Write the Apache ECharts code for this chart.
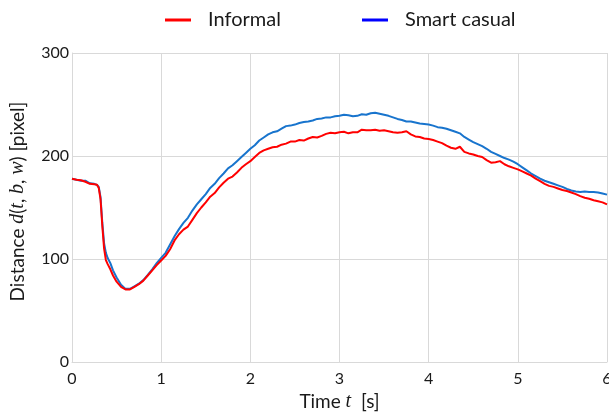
<!DOCTYPE html>
<html>
<head>
<meta charset="utf-8">
<script src="https://cdn.jsdelivr.net/npm/echarts@6/dist/echarts.min.js"></script>
<style>
  html, body { margin: 0; padding: 0; background: #fff; }
  #chart { width: 609px; height: 414px; }
</style>
</head>
<body>
<div id="chart"></div>
<script>
// Time samples in seconds (denser around the sharp drop)
const time = [
  0, 0.05, 0.1, 0.15, 0.2, 0.25, 0.28, 0.3, 0.32, 0.34, 0.36, 0.38, 0.4, 0.43, 0.46,
  0.5, 0.55, 0.6, 0.65, 0.7, 0.75, 0.8, 0.85, 0.9, 0.95,
  1.0, 1.05, 1.1, 1.15, 1.2, 1.25, 1.3, 1.35, 1.4, 1.45, 1.5, 1.55, 1.6, 1.65, 1.7, 1.75, 1.8, 1.85, 1.9, 1.95,
  2.0, 2.05, 2.1, 2.15, 2.2, 2.25, 2.3, 2.35, 2.4, 2.45, 2.5, 2.55, 2.6, 2.65, 2.7, 2.75, 2.8, 2.85, 2.9, 2.95,
  3.0, 3.05, 3.1, 3.15, 3.2, 3.25, 3.3, 3.35, 3.4, 3.45, 3.5, 3.55, 3.6, 3.65, 3.7, 3.75, 3.8, 3.85, 3.9, 3.95,
  4.0, 4.05, 4.1, 4.15, 4.2, 4.25, 4.3, 4.35, 4.4, 4.45, 4.5, 4.55, 4.6, 4.65, 4.7, 4.75, 4.8, 4.85, 4.9, 4.95,
  5.0, 5.05, 5.1, 5.15, 5.2, 5.25, 5.3, 5.35, 5.4, 5.45, 5.5, 5.55, 5.6, 5.65, 5.7, 5.75, 5.8, 5.85, 5.9, 5.95,
  6.0
];

// Distance d(t, b, w) in pixels, informal outfit
const informal = [
  178, 177, 176.5, 175, 173, 172.5, 172, 169, 158, 132, 110, 99, 95, 90, 84,
  78, 73, 70.5, 70.5, 73, 75.5, 79, 84, 89, 94,
  98.5, 103, 109.5, 118, 124, 128.5, 131.5, 138, 144.5, 150, 155, 160.5, 164, 169.5, 174, 178, 180, 184, 188.5, 192,
  195, 199, 203, 205.5, 207, 208.5, 209, 211, 212, 214, 214, 215.5, 215, 217, 218.5, 218, 219.5, 221.5, 222.5, 222,
  223, 223.5, 222, 223, 223, 225.5, 225, 225, 225.5, 224.5, 225, 224, 223, 222.5, 223, 224, 221, 219, 218.5, 217,
  216.5, 215.5, 214, 212.5, 210, 208, 207, 209, 204, 202.5, 201.5, 200, 199, 196, 193.5, 194, 195, 192, 190, 188.5,
  187, 185, 183, 181, 178, 175.5, 173, 171, 170, 168.5, 167, 166, 164.5, 163, 161, 159.5, 158.5, 157, 156, 155,
  153
];

// Distance d(t, b, w) in pixels, smart casual outfit
const smartCasual = [
  178, 177, 176, 176, 173.5, 173, 172, 170, 160, 135, 115, 106, 101, 96, 89,
  82, 75, 71, 71, 73.5, 76, 79.5, 84.5, 90, 96,
  101, 106, 114, 122, 129, 135, 140, 147, 153, 158, 163, 169, 173, 178.5, 183, 188, 191, 195, 199, 203,
  207, 210.5, 215, 218, 221, 223, 224, 226.5, 229, 229.5, 230.5, 232, 233, 233.5, 234.5, 236, 236.5, 237.5, 237.5, 238.5,
  239, 240, 239.5, 238.5, 239, 240.5, 240, 241.5, 242, 241, 240, 239, 237.5, 236, 235, 233.5, 233.5, 232.5, 231.5, 231,
  230.5, 229.5, 228, 227.5, 226.5, 225, 223.5, 222, 218.5, 216, 213.5, 211.5, 209.5, 207, 204, 202, 200, 198, 196.5, 194.5,
  192, 189, 186, 183, 180.5, 178, 176, 174.5, 173, 171.5, 170, 168, 166.5, 165.5, 165, 165.5, 165, 165, 164.5, 163.5,
  162.5
];

const seriesNames = ['Informal', 'Smart casual'];
const xTicks = [0, 1, 2, 3, 4, 5, 6];
const yTicks = [0, 100, 200, 300];

const pairs = (vals) => time.map((t, i) => [t, vals[i]]);

const FONT = 'Lato, "Open Sans", sans-serif';
const TEXT_COLOR = '#1a1a1a';
const GRID_COLOR = '#d9d9d9';
const mathRich = {
  i: { fontFamily: '"Liberation Serif", "DejaVu Serif", serif', fontStyle: 'italic', fontSize: 20, color: TEXT_COLOR }
};

const legendText = { fontFamily: FONT, fontSize: 20, color: TEXT_COLOR, padding: [0, 0, 0, 12] };

const chart = echarts.init(document.getElementById('chart'), null, { renderer: 'canvas' });

chart.setOption({
  animation: false,
  backgroundColor: '#ffffff',
  textStyle: { fontFamily: FONT },
  legend: [
    {
      data: [{ name: seriesNames[0], itemStyle: { color: '#ff0000' } }],
      left: 160, top: 5,
      icon: 'rect', itemWidth: 26, itemHeight: 3,
      textStyle: legendText
    },
    {
      data: [{ name: seriesNames[1], itemStyle: { color: '#0000ff' } }],
      left: 357, top: 5,
      icon: 'rect', itemWidth: 26, itemHeight: 3,
      textStyle: legendText
    }
  ],
  grid: { left: 72, right: 2, top: 53, bottom: 52, containLabel: false, outerBoundsMode: 'none' },
  xAxis: {
    type: 'value',
    min: xTicks[0], max: xTicks[xTicks.length - 1], interval: 1,
    name: 'Time {i|t}  [s]',
    nameLocation: 'middle', nameGap: 29,
    nameTextStyle: { fontFamily: FONT, fontSize: 19, color: TEXT_COLOR, rich: mathRich },
    axisLine: { show: true, lineStyle: { color: GRID_COLOR, width: 1 } },
    axisTick: { show: false },
    axisLabel: { fontFamily: FONT, fontSize: 16, color: TEXT_COLOR, margin: 9 },
    splitLine: { show: true, lineStyle: { color: GRID_COLOR, width: 1 } }
  },
  yAxis: {
    type: 'value',
    min: yTicks[0], max: yTicks[yTicks.length - 1], interval: 100,
    name: 'Distance {i|d}({i|t}, {i|b}, {i|w}) [pixel]',
    nameLocation: 'middle', nameGap: 44,
    nameTextStyle: { fontFamily: FONT, fontSize: 19, color: TEXT_COLOR, rich: mathRich, padding: [0, 0, 0, 12] },
    axisLine: { show: true, lineStyle: { color: GRID_COLOR, width: 1 } },
    axisTick: { show: false },
    axisLabel: { fontFamily: FONT, fontSize: 16, color: TEXT_COLOR, margin: 3 },
    splitLine: { show: true, lineStyle: { color: GRID_COLOR, width: 1 } }
  },
  series: [
    {
      name: seriesNames[1],
      type: 'line',
      data: pairs(smartCasual),
      showSymbol: false,
      color: '#1874cd',
      lineStyle: { color: '#1874cd', width: 2 },
      z: 2
    },
    {
      name: seriesNames[0],
      type: 'line',
      data: pairs(informal),
      showSymbol: false,
      color: '#ff0000',
      lineStyle: { color: '#ff0000', width: 2 },
      z: 3
    }
  ]
});
</script>
</body>
</html>
